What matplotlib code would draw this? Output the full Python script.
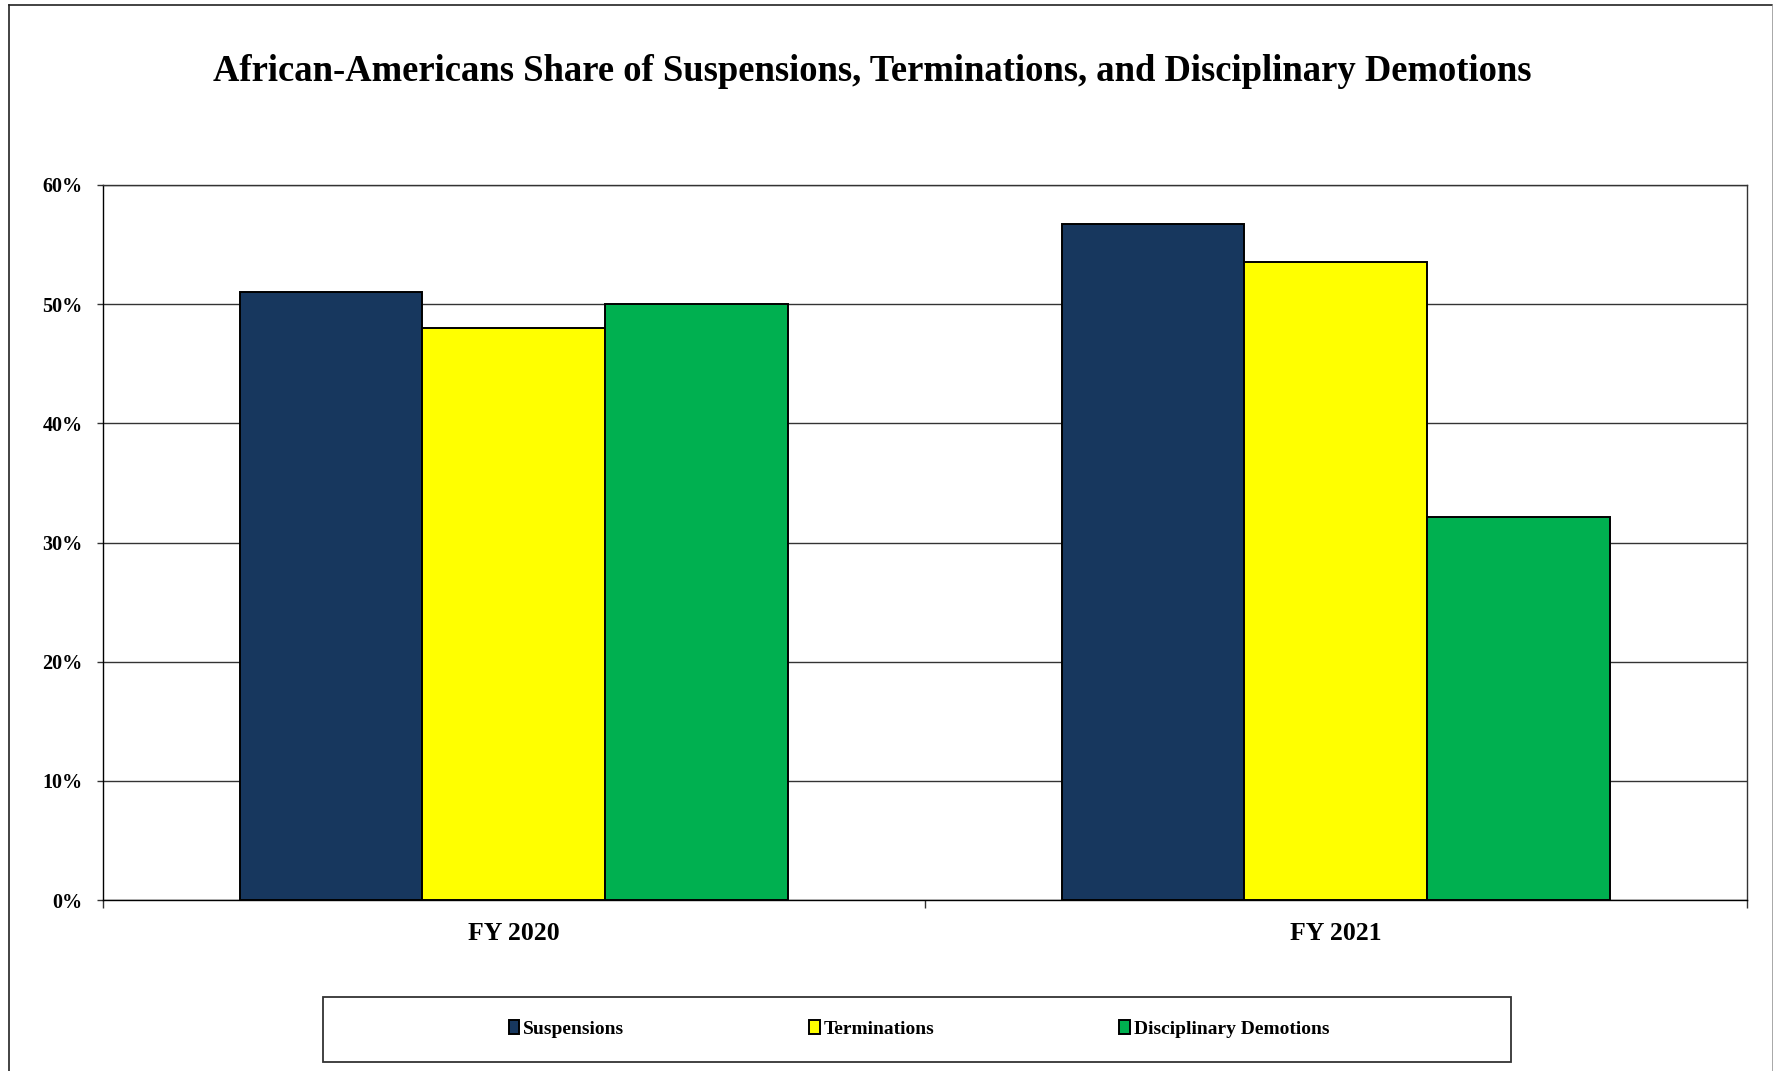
import matplotlib
matplotlib.use("Agg")
import matplotlib.pyplot as plt
from matplotlib.patches import Rectangle
from matplotlib.lines import Line2D

# ---- data ----
categories = ["FY 2020", "FY 2021"]
series_names = ["Suspensions", "Terminations", "Disciplinary Demotions"]
suspensions = [51.0, 56.7]
terminations = [48.0, 53.5]
demotions = [50.0, 32.1]
y_ticks = [0, 10, 20, 30, 40, 50, 60]
y_tick_labels = ["0%", "10%", "20%", "30%", "40%", "50%", "60%"]
title = "African-Americans Share of Suspensions, Terminations, and Disciplinary Demotions"

colors = ["#17375E", "#FFFF00", "#00B050"]
serif = ["Liberation Serif", "DejaVu Serif"]

W, H = 1774, 1071
fig = plt.figure(figsize=(W / 100, H / 100), dpi=100)
fig.patch.set_facecolor("white")

# outer chart frame
fig.add_artist(Line2D([9 / W, 9 / W], [0, 1 - 5 / H], transform=fig.transFigure, color="#222222", lw=1.2))
fig.add_artist(Line2D([9 / W, 1773 / W], [1 - 5 / H, 1 - 5 / H], transform=fig.transFigure, color="#222222", lw=1.2))
fig.add_artist(Line2D([1773 / W, 1773 / W], [0, 1 - 5 / H], transform=fig.transFigure, color="#999999", lw=1.2))

left, right, top, bottom = 102.7, 1746.7, 185, 900
ax = fig.add_axes([left / W, 1 - bottom / H, (right - left) / W, (bottom - top) / H])

bw = 1 / 4.5
data = [suspensions, terminations, demotions]
xs = list(range(len(categories)))
for i, (vals, name, c) in enumerate(zip(data, series_names, colors)):
    ax.bar([x + (i - 1) * bw for x in xs], vals, width=bw, color=c, edgecolor="black",
           linewidth=1.4, label=name, zorder=3)

ax.set_xlim(-0.5, len(categories) - 0.5)
ax.set_ylim(0, 60)
ax.set_yticks(y_ticks)
ax.set_yticklabels(y_tick_labels, fontfamily=serif, fontweight="bold", fontsize=14.5)
ax.yaxis.grid(True, color="#333333", linewidth=1.0, zorder=0)
ax.set_axisbelow(True)
ax.tick_params(axis="y", direction="out", length=4.3, width=1.0, color="#333333", pad=10)

ax.set_xticks(xs)
ax.set_xticklabels(categories, fontfamily=serif, fontweight="bold", fontsize=18.5)
ax.set_xticks([-0.5, 0.5, 1.5], minor=True)
ax.tick_params(axis="x", which="major", length=0, pad=16)
ax.tick_params(axis="x", which="minor", direction="out", length=5.8, width=1.0, color="#333333")

for s in ax.spines.values():
    s.set_color("#333333")
    s.set_linewidth(1.0)
ax.spines["left"].set_color("black")
ax.spines["bottom"].set_color("black")

# title, fitted to the measured width
target_w = 1532 - 213.3
t = fig.text(872.7 / W, 1 - 80.7 / H, title, ha="center", va="baseline",
             fontfamily=serif, fontweight="bold", fontsize=28)
fig.canvas.draw()
bb = t.get_window_extent()
t.set_fontsize(28 * target_w / bb.width)

# legend box
lx0, lx1, ly0, ly1 = 322.7, 1511, 996.7, 1061.7
fig.add_artist(Rectangle((lx0 / W, 1 - ly1 / H), (lx1 - lx0) / W, (ly1 - ly0) / H,
                         transform=fig.transFigure, fill=False, edgecolor="#333333", lw=1.3))
handles, labels = ax.get_legend_handles_labels()
leg = fig.legend(handles, labels, loc="center", bbox_to_anchor=(919 / W, 1 - 1029 / H),
                 ncol=3, frameon=False, handlelength=0.55, handleheight=0.72,
                 handletextpad=0.2, columnspacing=9.5,
                 prop={"family": serif, "weight": "bold", "size": 14})

fig.savefig("out.png", dpi=100, facecolor="white")
